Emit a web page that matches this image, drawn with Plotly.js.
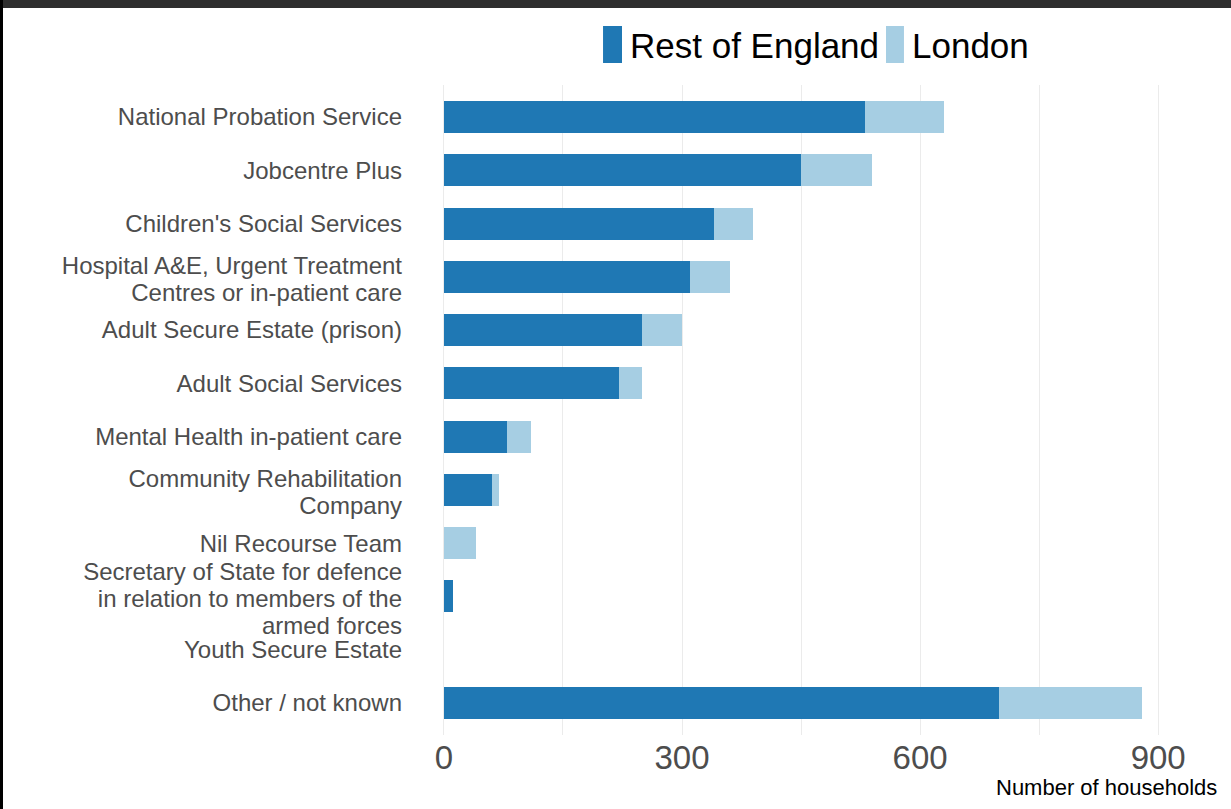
<!DOCTYPE html>
<html>
<head>
<meta charset="utf-8">
<script src="https://cdn.plot.ly/plotly-3.0.1.min.js"></script>
<style>
  html, body { margin: 0; padding: 0; background: #ffffff; }
  #wrap { position: relative; width: 1231px; height: 809px; overflow: hidden; }
  #chart { position: absolute; left: 0; top: 0; width: 1231px; height: 809px; }
  .frame { position: absolute; pointer-events: none; }
</style>
</head>
<body>
<div id="wrap">
  <div id="chart"></div>
  <div class="frame" style="left:0;top:0;width:1231px;height:8px;background:#2e2e2e;"></div>
  <div class="frame" style="left:0;top:0;width:3px;height:809px;background:#000000;"></div>
</div>
<script>
// ---- Data ----
const categories = [
  "National Probation Service",
  "Jobcentre Plus",
  "Children's Social Services",
  "Hospital A&E, Urgent Treatment<br>Centres or in-patient care",
  "Adult Secure Estate (prison)",
  "Adult Social Services",
  "Mental Health in-patient care",
  "Community Rehabilitation<br>Company",
  "Nil Recourse Team",
  "Secretary of State for defence<br>in relation to members of the<br>armed forces",
  "Youth Secure Estate",
  "Other / not known"
];
const restOfEngland = [530, 450, 340, 310, 250, 220, 80, 60, 0, 11, 0, 700];
const london        = [100, 90, 50, 50, 50, 30, 30, 10, 40, 0, 0, 180];
const seriesNames = ["Rest of England", "London"];
const seriesColors = ["#1F78B4", "#A6CEE3"];
const xTickVals = [0, 150, 300, 450, 600, 750, 900];
const xTickText = ["0", "", "300", "", "600", "", "900"];
const xAxisLabel = "Number of households";

// ---- Traces ----
const traces = [
  { type: "bar", orientation: "h", name: seriesNames[0], y: categories, x: restOfEngland,
    marker: { color: seriesColors[0], line: { width: 0 } }, width: 0.6, hoverinfo: "x+name" },
  { type: "bar", orientation: "h", name: seriesNames[1], y: categories, x: london,
    marker: { color: seriesColors[1], line: { width: 0 } }, width: 0.6, hoverinfo: "x+name" }
];

const font = "Liberation Sans, Arial, Helvetica, sans-serif";
const yFontSize = 24;

const layout = {
  width: 1231, height: 809,
  paper_bgcolor: "#ffffff", plot_bgcolor: "#ffffff",
  barmode: "stack",
  showlegend: false,
  margin: { l: 436, r: 49, t: 85, b: 74, pad: 0 },
  font: { family: font, color: "#4D4D4D" },
  xaxis: {
    range: [-10, 930],
    tickmode: "array", tickvals: xTickVals, ticktext: xTickText,
    showgrid: true, gridcolor: "#EBEBEB", gridwidth: 1,
    zeroline: false, showline: false, ticks: "",
    tickfont: { family: font, size: 33, color: "#4D4D4D" },
    fixedrange: true
  },
  yaxis: {
    type: "category",
    categoryorder: "array", categoryarray: categories,
    range: [11.6, -0.6],
    showgrid: false, zeroline: false, showline: false, ticks: "",
    ticklabelstandoff: 33,
    tickfont: { family: font, size: yFontSize, color: "#4D4D4D" },
    fixedrange: true
  },
  shapes: [
    { type: "rect", xref: "paper", yref: "paper", x0: 0.2239, x1: 0.2493, y0: 1.0338, y1: 1.0908,
      fillcolor: seriesColors[0], line: { width: 0 } },
    { type: "rect", xref: "paper", yref: "paper", x0: 0.6032, x1: 0.6273, y0: 1.0338, y1: 1.0908,
      fillcolor: seriesColors[1], line: { width: 0 } }
  ],
  annotations: [
    { xref: "paper", yref: "paper", x: 0.257, y: 1.0615, xanchor: "left", yanchor: "middle",
      text: seriesNames[0], showarrow: false, font: { family: font, size: 35, color: "#000000" } },
    { xref: "paper", yref: "paper", x: 0.635, y: 1.0615, xanchor: "left", yanchor: "middle",
      text: seriesNames[1], showarrow: false, font: { family: font, size: 35, color: "#000000" } },
    { xref: "paper", yref: "paper", x: 1.05, y: -0.0815, xanchor: "right", yanchor: "middle",
      text: xAxisLabel, showarrow: false, font: { family: font, size: 22, color: "#000000" } }
  ]
};

Plotly.newPlot("chart", traces, layout, { displayModeBar: false, staticPlot: true }).then(function (gd) {
  // tighten line spacing of multi-line category labels (as in the reference)
  const newEm = 1.125, oldEm = 1.3;
  gd.querySelectorAll(".ytick text").forEach(function (t) {
    const lines = t.querySelectorAll("tspan.line");
    if (lines.length > 1) {
      const shift = (lines.length - 1) * (oldEm - newEm) * yFontSize / 2 + 2;
      lines.forEach(function (ts) {
        const d = parseFloat(ts.getAttribute("dy") || "0");
        ts.setAttribute("dy", (d * newEm / oldEm) + "em");
        const yy = parseFloat(ts.getAttribute("y") || t.getAttribute("y") || "0");
        ts.setAttribute("y", yy + shift);
      });
    }
  });
});
</script>
</body>
</html>
